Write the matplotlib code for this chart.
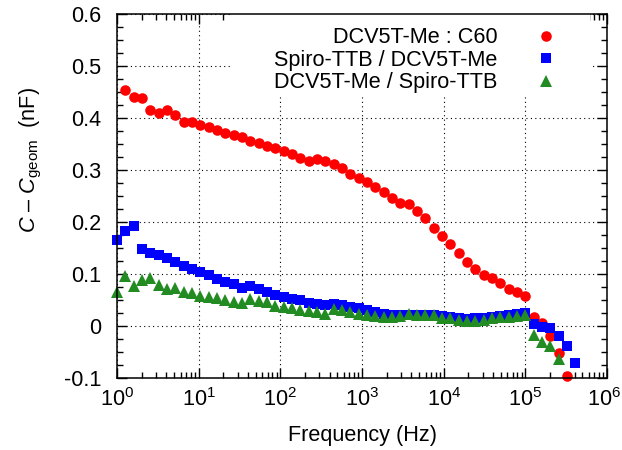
import numpy as np
import matplotlib
matplotlib.use("Agg")
import matplotlib.pyplot as plt
from matplotlib.patches import Rectangle
from matplotlib.transforms import ScaledTranslation
from matplotlib.ticker import FixedLocator, MultipleLocator, LogLocator, FuncFormatter, NullFormatter

plt.rcParams['font.family'] = ['Liberation Sans', 'DejaVu Sans']
plt.rcParams['mathtext.fontset'] = 'custom'
plt.rcParams['mathtext.rm'] = 'Liberation Sans'
plt.rcParams['mathtext.it'] = 'Liberation Sans:italic'
plt.rcParams['axes.unicode_minus'] = False

# Frequency sweep (Hz), shared by all three measurements
freq = [1.0, 1.265, 1.600, 2.024, 2.560, 3.237, 4.095, 5.180, 6.551, 8.286,
        10.48, 13.26, 16.77, 21.21, 26.83, 33.93, 42.92, 54.29, 68.66, 86.85,
        109.9, 139.0, 175.8, 222.3, 281.2, 355.7, 449.9, 569.0, 719.7, 910.3,
        1151, 1456, 1842, 2330, 2947, 3728, 4715, 5964, 7543, 9541,
        12068, 15264, 19307, 24421, 30888, 39069, 49417, 62505, 79060, 100000,
        126486, 159986, 202359, 255955, 323746, 409492]

# DCV5T-Me : C60 (starts at the 2nd frequency, ends at the 55th)
c60 = [0.453, 0.440, 0.438, 0.415, 0.409, 0.415, 0.406, 0.393, 0.393,
       0.387, 0.382, 0.376, 0.372, 0.367, 0.363, 0.356, 0.351, 0.347, 0.342,
       0.337, 0.330, 0.324, 0.318, 0.322, 0.317, 0.311, 0.304, 0.292, 0.285,
       0.277, 0.267, 0.258, 0.247, 0.236, 0.234, 0.221, 0.207, 0.188, 0.173,
       0.158, 0.141, 0.124, 0.110, 0.099, 0.093, 0.083, 0.071, 0.065, 0.057,
       0.018, 0.005, -0.019, -0.051, -0.096]

# Spiro-TTB / DCV5T-Me
spiro_dcv = [0.165, 0.183, 0.193, 0.148, 0.140, 0.137, 0.131, 0.124, 0.116, 0.109,
             0.104, 0.098, 0.090, 0.085, 0.081, 0.074, 0.077, 0.072, 0.066, 0.060,
             0.056, 0.052, 0.050, 0.045, 0.042, 0.040, 0.042, 0.041, 0.036, 0.034,
             0.030, 0.027, 0.024, 0.022, 0.021, 0.021, 0.021, 0.021, 0.021, 0.019,
             0.017, 0.015, 0.014, 0.015, 0.016, 0.018, 0.020, 0.021, 0.023, 0.025,
             0.004, -0.001, -0.003, -0.019, -0.038, -0.072]

# DCV5T-Me / Spiro-TTB
dcv_spiro = [0.066, 0.096, 0.076, 0.088, 0.092, 0.079, 0.072, 0.074, 0.066, 0.063,
             0.058, 0.055, 0.053, 0.050, 0.047, 0.045, 0.051, 0.048, 0.046, 0.039,
             0.037, 0.034, 0.031, 0.029, 0.026, 0.024, 0.032, 0.031, 0.027, 0.023,
             0.021, 0.019, 0.017, 0.017, 0.019, 0.023, 0.022, 0.021, 0.021, 0.015,
             0.015, 0.012, 0.010, 0.010, 0.012, 0.015, 0.017, 0.018, 0.020, 0.022,
             -0.017, -0.030, -0.038, -0.064]

labels = ["DCV5T-Me : C60", "Spiro-TTB / DCV5T-Me", "DCV5T-Me / Spiro-TTB"]
yticks = [-0.1, 0, 0.1, 0.2, 0.3, 0.4, 0.5, 0.6]

fs = 15.6
fig = plt.figure(figsize=(6.22, 4.5), dpi=100)
ax = fig.add_axes([117/622, 72/450, 490/622, 364/450])

ax.plot(freq[1:1 + len(c60)], c60, 'o', color='#ff0000', ms=7.6, mew=0,
        label=labels[0], clip_on=False, zorder=3)
ax.plot(freq[:len(spiro_dcv)], spiro_dcv, 's', color='#0000ff', ms=7.2, mew=0,
        label=labels[1], clip_on=False, zorder=3)
ax.plot(freq[:len(dcv_spiro)], dcv_spiro, '^', color='#228b22', ms=8.0, mew=0,
        label=labels[2], clip_on=False, zorder=3)

ax.set_xscale('log')
ax.set_xlim(1, 1e6)
ax.set_ylim(-0.1, 0.6)
ax.xaxis.set_major_locator(LogLocator(base=10, numticks=10))
ax.xaxis.set_minor_locator(LogLocator(base=10, subs=np.arange(2, 10), numticks=20))
ax.xaxis.set_minor_formatter(NullFormatter())
ax.yaxis.set_major_locator(FixedLocator(yticks))
ax.yaxis.set_minor_locator(MultipleLocator(0.025))
ax.yaxis.set_major_formatter(FuncFormatter(lambda v, p: '%g' % round(v, 3)))

ax.tick_params(which='both', direction='in', top=True, right=True, width=1.0,
               labelsize=fs, color='black')
ax.tick_params(which='major', length=7)
ax.tick_params(which='minor', length=4)
ax.tick_params(axis='y', which='major', pad=11)
ax.tick_params(axis='x', which='major', pad=7)
for s in ax.spines.values():
    s.set_linewidth(1.1)
    s.set_zorder(4)

ax.grid(True, which='major', color='black', linestyle=(0, (1, 3)), linewidth=0.8)

ax.set_xlabel("Frequency (Hz)", fontsize=fs, labelpad=10)
ax.set_ylabel(r"$C$ – $C_{\mathrm{geom}}$  (nF)", fontsize=fs)
ax.yaxis.set_label_coords(-0.148, 0.6)

# keep the last decade label inside the figure
fig.canvas.draw()
for lbl in ax.get_xticklabels():
    if lbl.get_text() and '6' in lbl.get_text():
        lbl.set_transform(lbl.get_transform() + ScaledTranslation(-3/100, 0, fig.dpi_scale_trans))

# opaque key area hides the grid behind the legend
ax.add_patch(Rectangle(((230 - 117) / 490, (378 - 97) / 364), (590 - 230) / 490,
                       (97 - 14) / 364, transform=ax.transAxes, facecolor='white',
                       edgecolor='none', zorder=2))

leg = ax.legend(loc='upper right', bbox_to_anchor=(0.934, 1.011), markerfirst=False,
                numpoints=1, fontsize=fs, handlelength=1.0, handletextpad=1.75,
                labelspacing=0.07, borderpad=0.3, frameon=False)

fig.savefig("out.png", dpi=100)
